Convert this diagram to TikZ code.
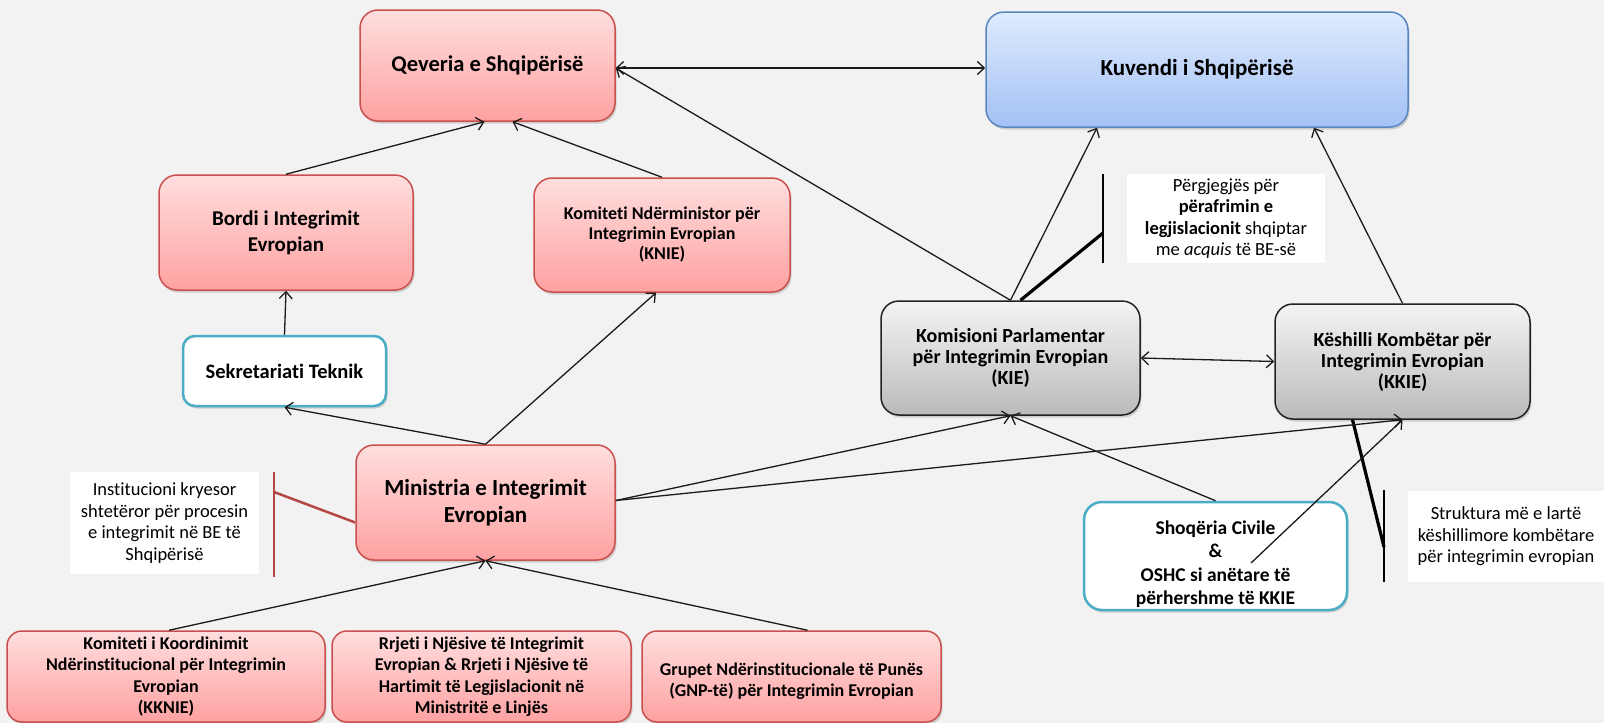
\documentclass[tikz,border=0pt]{standalone}
\usepackage{fontspec}
\setmainfont{Carlito}[Ligatures=NoCommon]
\usetikzlibrary{arrows.meta,shadows,calc}
\definecolor{bgc}{HTML}{F2F2F2}
\definecolor{redT}{HTML}{FFDEDE}
\definecolor{redB}{HTML}{FFA1A1}
\definecolor{redD}{HTML}{C9504D}
\definecolor{bluT}{HTML}{DFEBFD}
\definecolor{bluB}{HTML}{A2C1F5}
\definecolor{bluD}{HTML}{5A86C0}
\definecolor{gryT}{HTML}{F4F4F4}
\definecolor{gryB}{HTML}{BABABA}
\definecolor{gryD}{HTML}{222222}
\definecolor{tealC}{HTML}{4BACC6}
\definecolor{lnC}{HTML}{1A1A1A}
\newcommand{\fs}[2]{\fontsize{#1}{#2}\selectfont}
\tikzset{
  base/.style={rounded corners=18pt, align=center, inner sep=2pt, line width=1.5pt,
    drop shadow={opacity=0.25, shadow xshift=1.5pt, shadow yshift=-2.5pt, fill=black!60}},
  redbox/.style={base, draw=redD, top color=redT, bottom color=redB},
  bluebox/.style={base, draw=bluD, top color=bluT, bottom color=bluB},
  greybox/.style={base, draw=gryD, top color=gryT, bottom color=gryB},
  whitebox/.style={base, draw=tealC, line width=2.5pt, fill=white},
  note/.style={fill=white, align=center, inner sep=0pt, font=\fs{18.5}{21.5}},
  conn/.style={line width=1.3pt, draw=lnC, -{Straight Barb[length=7pt,width=13pt,line width=1.3pt]}},
  both/.style={line width=1.3pt, draw=lnC, {Straight Barb[length=7pt,width=13pt,line width=1.3pt]}-{Straight Barb[length=7pt,width=13pt,line width=1.3pt]}},
  thickln/.style={line width=3.2pt, draw=black},
  redln/.style={line width=2.5pt, draw=redD!90!black}
}
\begin{document}
\begin{tikzpicture}[x=1pt,y=-1pt]
\useasboundingbox (0,0) rectangle (1604,723);
\fill[bgc] (0,0) rectangle (1604,723);

% main nodes
\node[redbox, minimum width=255pt, minimum height=111pt, font=\bfseries\fs{22.5}{26}] (qev) at (487.5,65.5) {Qeveria e Shqipërisë};
\node[bluebox, minimum width=422pt, minimum height=115pt, font=\bfseries\fs{23}{26}] (kuv) at (1197,69.5) {Kuvendi i Shqipërisë};
\node[redbox, minimum width=254pt, minimum height=115pt, font=\bfseries\fs{21}{26}] (bordi) at (286,232.5) {Bordi i Integrimit\\Evropian};
\node[redbox, minimum width=256pt, minimum height=114pt, font=\bfseries\fs{18}{20}] (knie) at (662,235) {Komiteti Ndërministor për\\Integrimin Evropian\\(KNIE)};
\node[whitebox, minimum width=203pt, minimum height=70pt, rounded corners=12pt, font=\bfseries\fs{20.5}{24}] (sek) at (284.5,371) {Sekretariati Teknik};
\node[redbox, minimum width=259pt, minimum height=115pt, font=\bfseries\fs{23}{27.5}] (min) at (485.5,502.5) {Ministria e Integrimit\\Evropian};
\node[greybox, minimum width=259pt, minimum height=114pt, font=\bfseries\fs{20}{21}] (kie) at (1010.5,358) {Komisioni Parlamentar\\për Integrimin Evropian\\(KIE)};
\node[greybox, minimum width=255pt, minimum height=115pt, font=\bfseries\fs{20}{21}] (kkie) at (1402.5,361.5) {Këshilli Kombëtar për\\Integrimin Evropian\\(KKIE)};
\node[whitebox, minimum width=263pt, minimum height=108pt, font=\bfseries\fs{19.5}{23.5}] (shoq) at (1215.5,556) {\rule{0pt}{30pt}Shoqëria Civile\\\&\\OSHC si anëtare të\\përhershme të KKIE};
\node[redbox, rounded corners=15pt, minimum width=318pt, minimum height=91pt, font=\bfseries\fs{18}{21.5}] (kknie) at (166,676.5) {Komiteti i Koordinimit\\Ndërinstitucional për Integrimin\\Evropian\\(KKNIE)};
\node[redbox, rounded corners=15pt, minimum width=299pt, minimum height=91pt, font=\bfseries\fs{18}{21.5}] (rrjeti) at (481.5,676.5) {Rrjeti i Njësive të Integrimit\\Evropian \& Rrjeti i Njësive të\\Hartimit të Legjislacionit në\\Ministritë e Linjës};
\node[redbox, rounded corners=15pt, minimum width=299pt, minimum height=91pt, font=\bfseries\fs{18}{21.5}] (grupet) at (791.5,676.5) {\rule{0pt}{22pt}Grupet Ndërinstitucionale të Punës\\(GNP-të) për Integrimin Evropian};

% notes
\node[note, minimum width=189pt, minimum height=102pt] (noteL) at (164.5,523) {Institucioni kryesor\\shtetëror për procesin\\e integrimit në BE të\\Shqipërisë};
\node[note, minimum width=198pt, minimum height=89pt] (noteT) at (1226,218.5) {Përgjegjës për\\\textbf{përafrimin e}\\\textbf{legjislacionit} shqiptar\\me \textit{acquis} të BE-së};
\node[note, minimum width=196pt, minimum height=91pt] (noteR) at (1506,536.5) {Struktura më e lartë\\këshillimore kombëtare\\për integrimin evropian};

% bracket coordinates
\coordinate (bLa) at (274,472);
\coordinate (bLb) at (274,577);
\coordinate (bLm) at (274,492);
\coordinate (bTa) at (1103,174);
\coordinate (bTb) at (1103,263);
\coordinate (bTm) at (1103,233);
\coordinate (bRa) at (1384,490);
\coordinate (bRb) at (1384,582);
\coordinate (bRm) at (1384,547);
\coordinate (shoqIn) at (1251,563);

% brackets
\draw[redln] (bLa) -- (bLb);
\draw[redln] (bLm) -- ($(min.west)+(0,20)$);
\draw[line width=2.6pt] (bTa) -- (bTb);
\draw[thickln] (bTm) -- ($(kie.north)+(10,0)$);
\draw[line width=2.6pt] (bRa) -- (bRb);
\draw[thickln] (bRm) -- ($(kkie.south)+(-50,0)$);

% connectors
\draw[both] ($(qev.east)+(0,2.5)$) -- ($(kuv.west)+(0,-1.5)$);
\draw[conn] (kie.north) -- ($(qev.east)+(0,2.5)$);
\draw[conn] (bordi.north) -- ($(qev.south)+(-3,0)$);
\draw[conn] (knie.north) -- ($(qev.south)+(25,0)$);
\draw[conn] (sek.north) -- (bordi.south);
\draw[conn] (min.north) -- (sek.south);
\draw[conn] (min.north) -- ($(knie.south)+(-6,0)$);
\draw[conn] (kie.north) -- ($(kuv.south)+(-100,0)$);
\draw[conn] (kkie.north) -- ($(kuv.south)+(117,0)$);
\draw[both] (kie.east) -- (kkie.west);
\draw[conn] ($(min.east)+(0,-2)$) -- (kie.south);
\draw[conn] ($(min.east)+(0,-2)$) -- (kkie.south);
\draw[conn] (shoq.north) -- (kie.south);
\draw[conn] (shoqIn) -- (kkie.south);
\draw[conn] ($(kknie.north)+(3,0)$) -- (min.south);
\draw[conn] ($(grupet.north)+(16,0)$) -- (min.south);
\end{tikzpicture}
\end{document}
